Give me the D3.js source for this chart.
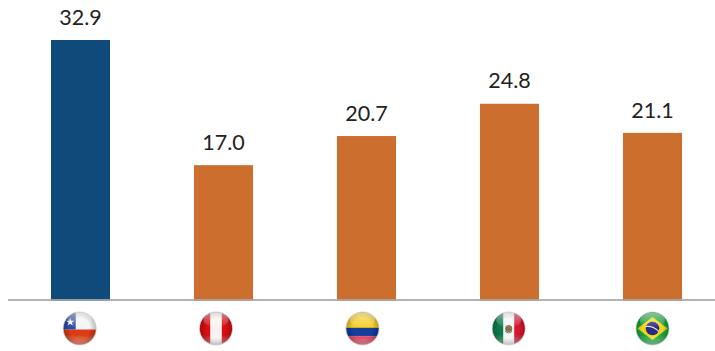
<!DOCTYPE html>
<html>
<head>
<meta charset="utf-8">
<script src="https://cdn.jsdelivr.net/npm/d3@7/dist/d3.min.js"></script>
<style>
html,body{margin:0;padding:0;background:#fff;}
svg{display:block;}
</style>
</head>
<body>
<script>
const countries = ["Chile","Perú","Colombia","México","Brasil"];
const values = [32.9,17.0,20.7,24.8,21.1];
const barColors = ["#0f4a7a","#cc6e2e","#cc6e2e","#cc6e2e","#cc6e2e"];

const W = 715, H = 351, zeroY = 299, lineY = 300, R = 16.6, flagY = 328.5;
// the flag row sits slightly left of the bars it belongs to
const flagShift = {Chile:-0.8,"Perú":-7.5,Colombia:-4,"México":-0.8,Brasil:0};

const svg = d3.select("body").append("svg").attr("width",W).attr("height",H);
const defs = svg.append("defs");

const x = d3.scaleBand().domain(countries).range([9,724]).paddingInner(0.587).paddingOuter(0.2935);
const y = d3.scaleLinear().domain([0,32.9]).range([zeroY,40]);

// bars, with a small foot running under the baseline
svg.selectAll("rect.bar").data(countries).join("rect").attr("class","bar")
  .attr("x",d=>x(d)).attr("width",x.bandwidth())
  .attr("y",(d,i)=>y(values[i])).attr("height",(d,i)=>zeroY-y(values[i])+2)
  .attr("fill",(d,i)=>barColors[i]);

// baseline, faintly letting the bar feet show through
svg.append("line").attr("x1",8).attr("x2",W).attr("y1",lineY).attr("y2",lineY)
  .attr("stroke","#a9a9a9").attr("stroke-width",2).attr("stroke-opacity",0.88);

// value labels
svg.selectAll("text.val").data(countries).join("text").attr("class","val")
  .attr("x",d=>x(d)+x.bandwidth()/2).attr("y",(d,i)=>y(values[i])-15.3)
  .attr("text-anchor","middle")
  .attr("font-family","'Lato','Open Sans',sans-serif").attr("font-weight",400)
  .attr("font-size",21.5).attr("fill","#222")
  .text((d,i)=>values[i].toFixed(1));

// shared gloss for the round flags
const gloss = defs.append("radialGradient").attr("id","gloss").attr("cx","50%").attr("cy","50%").attr("r","50%");
gloss.append("stop").attr("offset","60%").attr("stop-color","#000").attr("stop-opacity",0);
gloss.append("stop").attr("offset","100%").attr("stop-color","#000").attr("stop-opacity",0.24);
const shine = defs.append("linearGradient").attr("id","shine").attr("x1",0).attr("y1",0).attr("x2",0).attr("y2",1);
shine.append("stop").attr("offset","0%").attr("stop-color","#fff").attr("stop-opacity",0.5);
shine.append("stop").attr("offset","100%").attr("stop-color","#fff").attr("stop-opacity",0.04);
const glow = defs.append("linearGradient").attr("id","glow").attr("x1",0).attr("y1",0).attr("x2",0).attr("y2",1);
glow.append("stop").attr("offset","0%").attr("stop-color","#fff").attr("stop-opacity",0);
glow.append("stop").attr("offset","100%").attr("stop-color","#fff").attr("stop-opacity",0.5);
defs.append("filter").attr("id","soft").attr("x","-10%").attr("y","-10%").attr("width","120%").attr("height","120%")
  .append("feGaussianBlur").attr("stdDeviation",0.45);

const painters = {
  Chile(g){
    g.append("rect").attr("x",-R).attr("y",-R).attr("width",2*R).attr("height",R+1).attr("fill","#f4f4f6");
    g.append("rect").attr("x",-R).attr("y",1).attr("width",2*R).attr("height",R).attr("fill","#dc3a12");
    g.append("rect").attr("x",-R).attr("y",-R).attr("width",R*0.76).attr("height",R+1).attr("fill","#2f4fa8");
    g.append("path").attr("d",d3.symbol(d3.symbolStar,22)()).attr("transform","translate(-9.5,-6.5)").attr("fill","#fff");
  },
  "Perú"(g){
    g.append("rect").attr("x",-R).attr("y",-R).attr("width",2*R).attr("height",2*R).attr("fill","#d80c12");
    g.append("rect").attr("x",-5.8).attr("y",-R).attr("width",11.6).attr("height",2*R).attr("fill","#f6f2f2");
  },
  Colombia(g){
    g.append("rect").attr("x",-R).attr("y",-R).attr("width",2*R).attr("height",R).attr("fill","#f6cd22");
    g.append("rect").attr("x",-R).attr("y",-0.7).attr("width",2*R).attr("height",8.4).attr("fill","#123c9c");
    g.append("rect").attr("x",-R).attr("y",7.7).attr("width",2*R).attr("height",9).attr("fill","#e0304e");
  },
  "México"(g){
    g.append("rect").attr("x",-R).attr("y",-R).attr("width",2*R).attr("height",2*R).attr("fill","#f4f4f4");
    g.append("rect").attr("x",-R).attr("y",-R).attr("width",R-5.5).attr("height",2*R).attr("fill","#0c7a48");
    g.append("rect").attr("x",5.5).attr("y",-R).attr("width",R-5.5).attr("height",2*R).attr("fill","#d8142e");
    g.append("circle").attr("r",3.6).attr("fill","#8a7050");
    g.append("path").attr("d","M-3.5,3Q0,6 3.5,3").attr("fill","none").attr("stroke","#5e8a5a").attr("stroke-width",1);
  },
  Brasil(g){
    g.append("rect").attr("x",-R).attr("y",-R).attr("width",2*R).attr("height",2*R).attr("fill","#14a83a");
    g.append("path").attr("d",`M${-R+1.5},0L0,${-R+5}L${R-1.5},0L0,${R-5}Z`).attr("fill","#f2d41e");
    g.append("circle").attr("r",6.8).attr("fill","#2c2a80");
    g.append("path").attr("d","M-6.5,-2Q0,-3 6.5,3").attr("fill","none").attr("stroke","#dde").attr("stroke-width",1.1);
  }
};

countries.forEach((c,i)=>{
  const cx = x(c)+x.bandwidth()/2+flagShift[c];
  const clipId = "clip"+i;
  defs.append("clipPath").attr("id",clipId).append("circle").attr("r",R);
  const g = svg.append("g").attr("transform",`translate(${cx},${flagY})`).attr("filter","url(#soft)");
  const inner = g.append("g").attr("clip-path",`url(#${clipId})`);
  painters[c](inner);
  inner.append("rect").attr("x",-R).attr("y",6).attr("width",2*R).attr("height",R-6).attr("fill","url(#glow)");
  g.append("circle").attr("r",R).attr("fill","url(#gloss)");
  g.append("ellipse").attr("cy",-8.5).attr("rx",12.5).attr("ry",7.5).attr("fill","url(#shine)");
  g.append("circle").attr("r",R).attr("fill","none").attr("stroke","#d8d8d8").attr("stroke-width",0.8);
});
</script>
</body>
</html>
